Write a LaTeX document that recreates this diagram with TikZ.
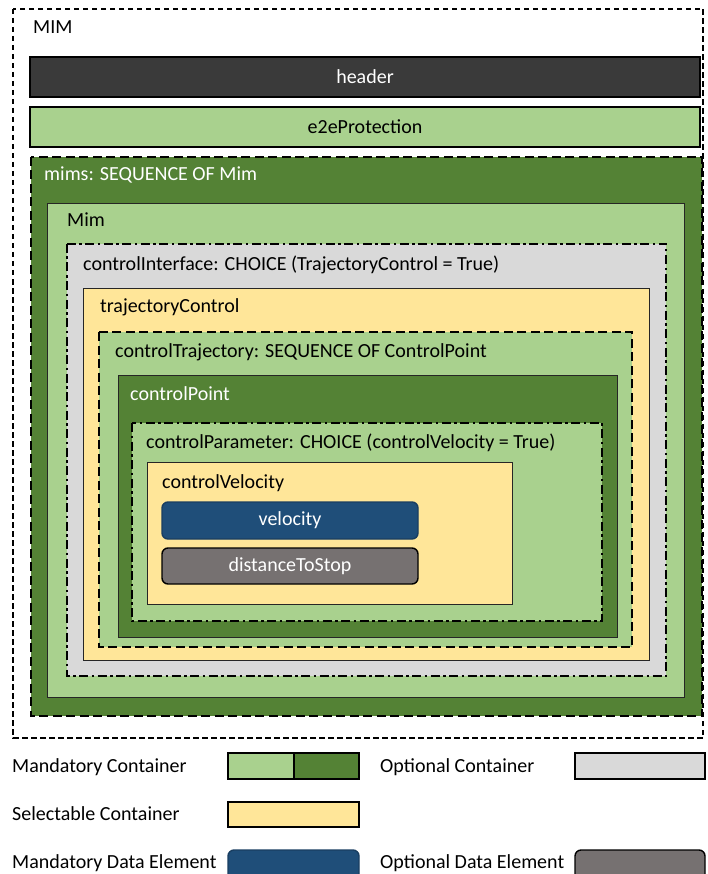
\documentclass[tikz,border=0pt]{standalone}
\usepackage{fontspec}
\setmainfont{Carlito}
\begin{document}
\begin{tikzpicture}[x=1pt,y=-1pt,
  font=\fontsize{20}{24}\selectfont,
  lbl/.style={anchor=base west,inner sep=0pt},
  ctr/.style={anchor=center,inner sep=0pt},
  solidbox/.style={draw=black!85,line width=1pt},
  thickbox/.style={draw=black,line width=1.6pt},
  dashbox/.style={draw=black,line width=2.4pt,dash pattern=on 9pt off 4.5pt},
  dotdashbox/.style={draw=black,line width=2.2pt,dash pattern=on 9pt off 3.5pt on 2.5pt off 3.5pt},
  elem/.style={rounded corners=6pt,line width=1.4pt}]
\definecolor{lgreen}{HTML}{A9D18E}
\definecolor{dgreen}{HTML}{548235}
\definecolor{lgray}{HTML}{D9D9D9}
\definecolor{yel}{HTML}{FFE699}
\definecolor{dblue}{HTML}{1F4E79}
\definecolor{egray}{HTML}{767171}
\definecolor{hdr}{HTML}{3A3A3A}
\useasboundingbox (0,0) rectangle (707,874);

% outer message container
\draw[line width=1.4pt,dash pattern=on 5.5pt off 3.5pt] (13,9) rectangle (703,738);
\node[lbl] (mim) at (33,34) {MIM};

% header and protection
\draw[thickbox,fill=hdr] (30,57) rectangle (700,97);
\node[ctr,text=white] (header) at (365,77) {header};
\draw[thickbox,fill=lgreen] (30,107) rectangle (700,147);
\node[ctr] (e2e) at (365,127) {e2eProtection};

% nested containers
\draw[dashbox,fill=dgreen] (31,157) rectangle (702,716);
\node[lbl,text=white] (mims) at (44,181) {mims: SEQUENCE OF Mim};

\draw[solidbox,fill=lgreen] (47,204) rectangle (684,697);
\node[lbl] (mimi) at (67,227) {Mim};

\draw[dotdashbox,fill=lgray] (67,244) rectangle (666,676);
\node[lbl] (ci) at (83,270) {controlInterface: CHOICE (TrajectoryControl = True)};

\draw[solidbox,fill=yel] (83,288) rectangle (649,660);
\node[lbl] (tc) at (100,312) {trajectoryControl};

\draw[dashbox,fill=lgreen] (99,332) rectangle (632,647);
\node[lbl] (ct) at (115,357) {controlTrajectory: SEQUENCE OF ControlPoint};

\draw[solidbox,fill=dgreen] (118,375) rectangle (617,637);
\node[lbl,text=white] (cp) at (130,400) {controlPoint};

\draw[dotdashbox,fill=lgreen] (132,423) rectangle (602,621);
\node[lbl] (cpar) at (146,448) {controlParameter: CHOICE (controlVelocity = True)};

\draw[solidbox,fill=yel] (147,462) rectangle (512,604);
\node[lbl] (cv) at (162,488) {controlVelocity};

% data elements
\draw[elem,draw=dblue!80!black,fill=dblue] (162,502) rectangle (418,539);
\node[ctr,text=white] (vel) at (290,520.5) {velocity};
\draw[elem,draw=black,fill=egray] (162,548) rectangle (418,584);
\node[ctr,text=white] (dts) at (290,566) {distanceToStop};

% legend
\node[lbl] (lmc) at (12,772) {Mandatory Container};
\draw[line width=1.4pt,fill=lgreen] (228,753) rectangle (294,779);
\draw[line width=1.4pt,fill=dgreen] (294,753) rectangle (359,779);
\node[lbl] (loc) at (380,772) {Optional Container};
\draw[line width=1.4pt,fill=lgray] (575,753) rectangle (705,779);
\node[lbl] (lsc) at (12,820) {Selectable Container};
\draw[line width=1.4pt,fill=yel] (228,802) rectangle (359,827);
\node[lbl] (lmd) at (12,868) {Mandatory Data Element};
\draw[elem,draw=dblue!80!black,fill=dblue] (228,850) rectangle (359,880);
\node[lbl] (lod) at (380,868) {Optional Data Element};
\draw[elem,draw=black,fill=egray] (575,850) rectangle (705,880);
\end{tikzpicture}
\end{document}
